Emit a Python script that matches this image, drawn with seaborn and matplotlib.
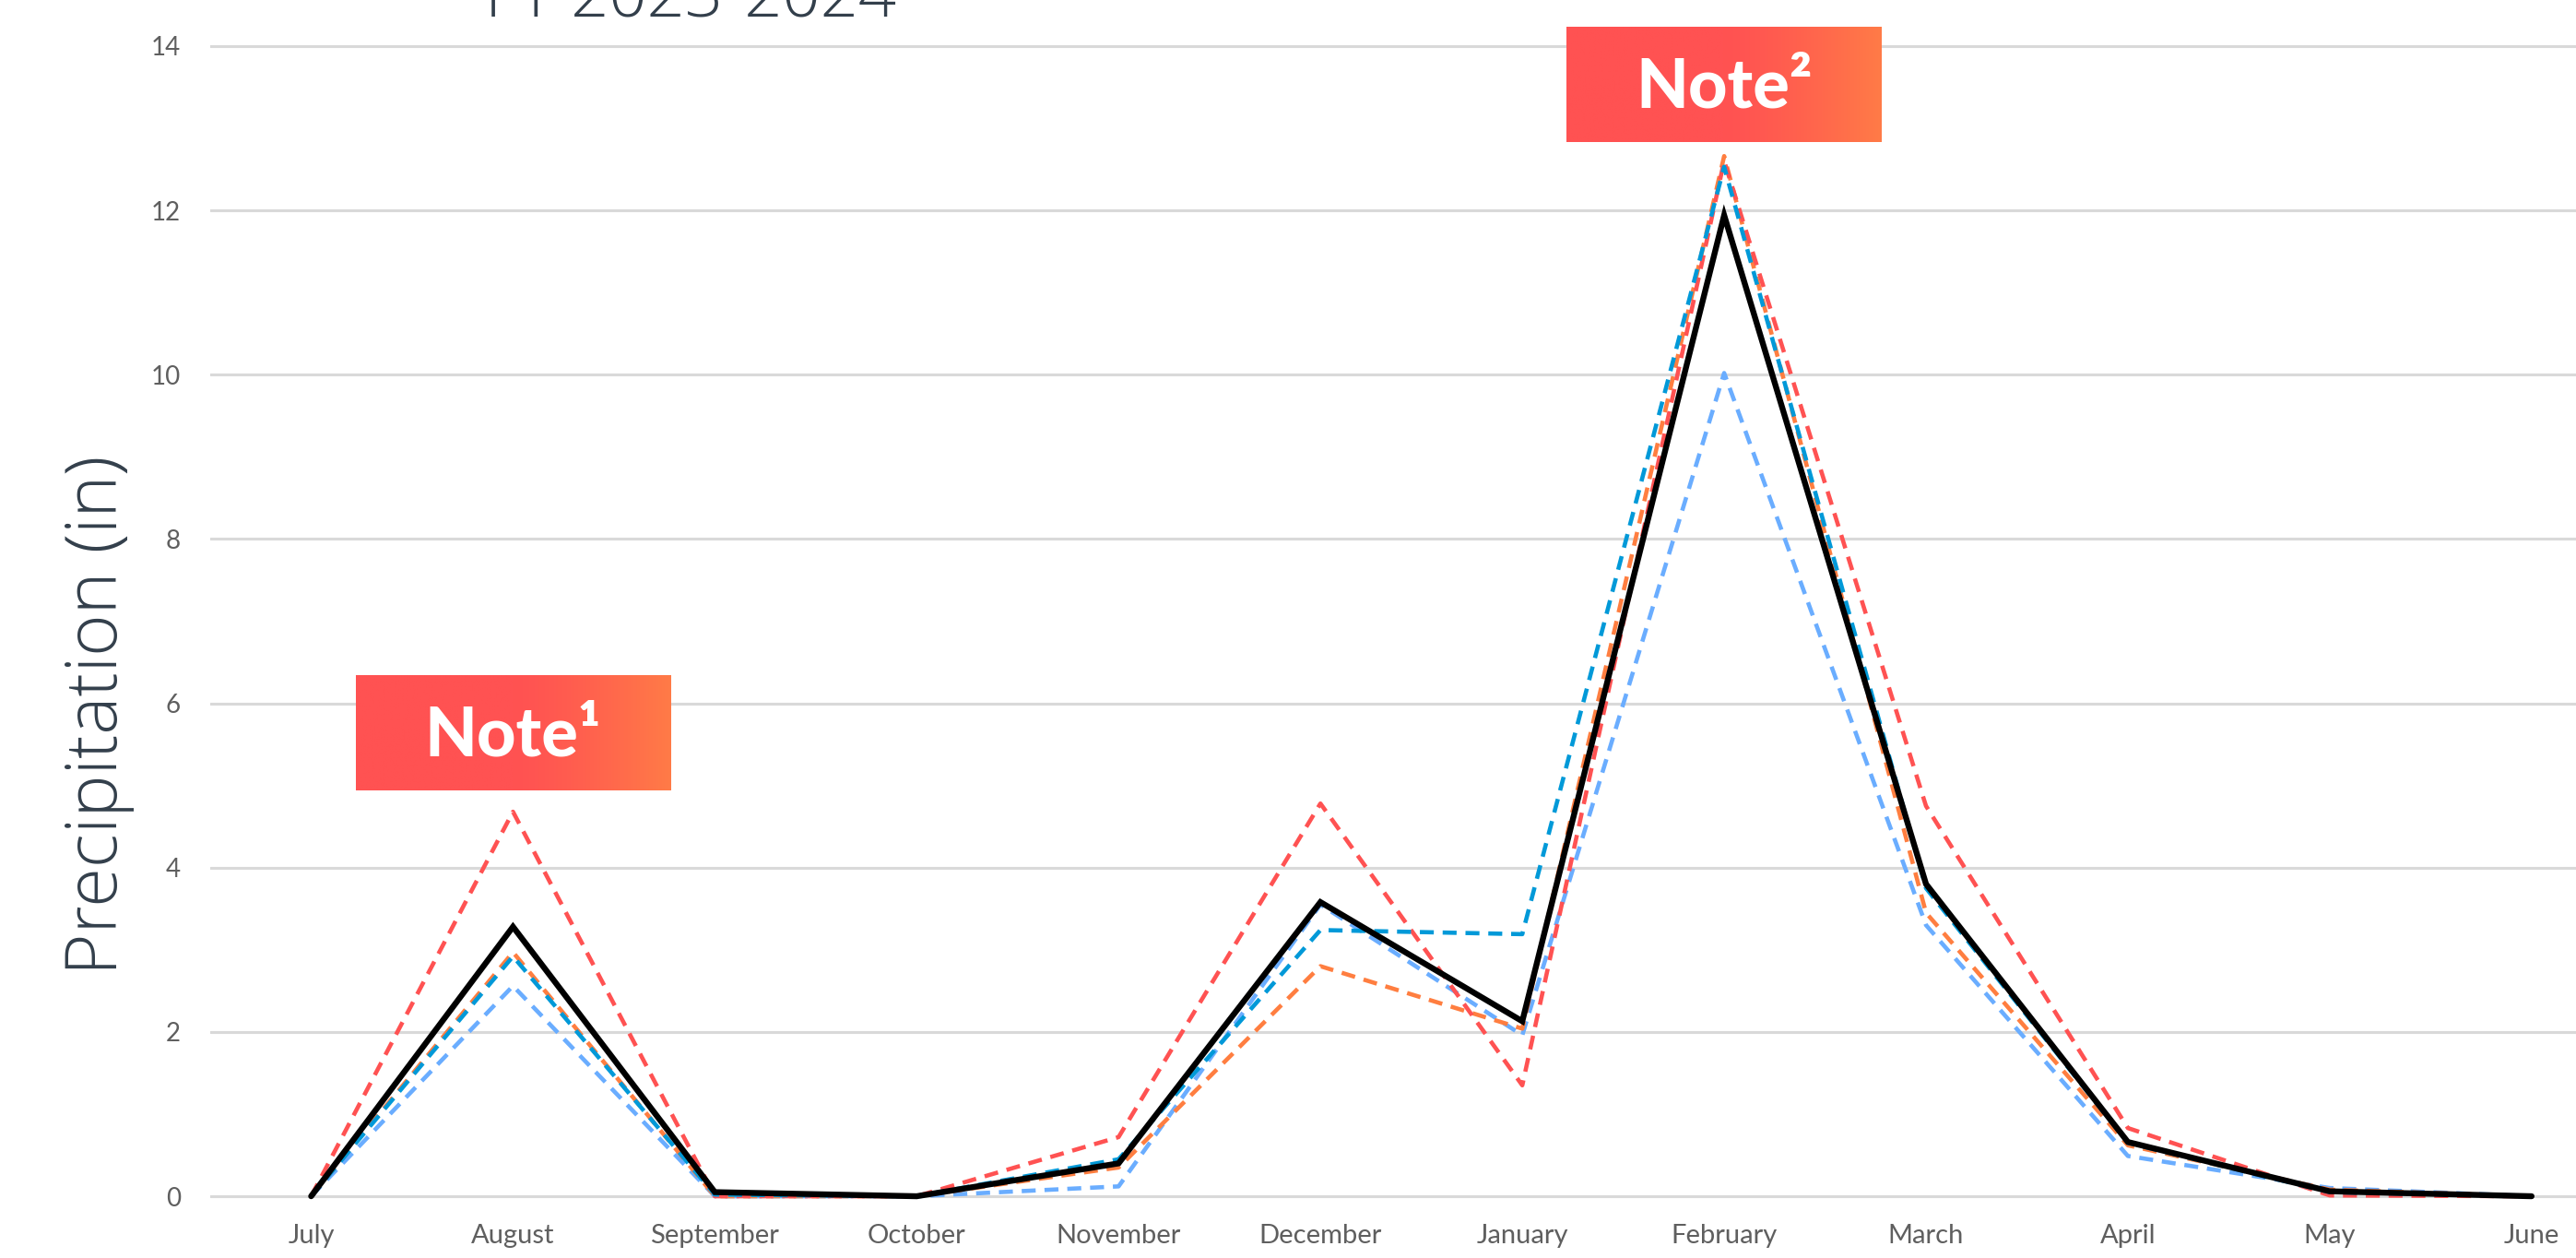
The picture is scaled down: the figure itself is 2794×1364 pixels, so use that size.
import numpy as np
import pandas as pd
import matplotlib
matplotlib.use("Agg")
import matplotlib.pyplot as plt
import seaborn as sns
from matplotlib.colors import to_rgb

# ---------------- data ----------------
months = ["July", "August", "September", "October", "November", "December",
          "January", "February", "March", "April", "May", "June"]

avg_precip = [0.0, 3.28, 0.05, 0.0, 0.40, 3.58, 2.13, 11.94, 3.80, 0.66, 0.06, 0.0]
series_red = [0.0, 4.68, 0.0, 0.0, 0.72, 4.78, 1.35, 12.60, 4.75, 0.83, 0.01, 0.0]
series_orange = [0.0, 2.97, 0.0, 0.0, 0.35, 2.80, 2.04, 12.66, 3.45, 0.62, 0.08, 0.0]
series_blue = [0.0, 2.92, 0.02, 0.0, 0.45, 3.24, 3.19, 12.53, 3.75, 0.65, 0.05, 0.0]
series_lightblue = [0.0, 2.56, 0.0, 0.0, 0.12, 3.55, 1.96, 10.02, 3.30, 0.49, 0.10, 0.0]

y_ticks = [0, 2, 4, 6, 8, 10, 12, 14]
notes = ["Note\u00b9", "Note\u00b2"]
note_months = ["August", "February"]

title_text = "FY 2023-2024"
ylabel_text = "Precipitation (in)"

# ---------------- style ----------------
sns.set_theme(style="white")
plt.rcParams["font.family"] = ["Lato", "DejaVu Sans"]

W, H = 2794, 1364
fig = plt.figure(figsize=(W / 100, H / 100), dpi=100)
ax = fig.add_axes([0.0816, 0.0295, 1 - 0.0816, 0.9705])

x_idx = np.arange(len(months))

dash_series = [
    (series_lightblue, "#6AADFF"),
    (series_orange, "#FF7E40"),
    (series_red, "#FF5252"),
    (series_blue, "#0099D8"),
]
for vals, col in dash_series:
    df = pd.DataFrame({"x": x_idx, "y": vals})
    sns.lineplot(data=df, x="x", y="y", ax=ax, color=col, lw=3.3,
                 dashes=False, zorder=3)
    ax.lines[-1].set_dashes((3.3, 2.1))

df_avg = pd.DataFrame({"x": x_idx, "y": avg_precip})
sns.lineplot(data=df_avg, x="x", y="y", ax=ax, color="black", lw=4.6,
             zorder=4)
ax.lines[-1].set_solid_joinstyle("miter")
ax.lines[-1].set_solid_capstyle("round")

ax.set_xlim(-0.5, 11.22)
ax.set_ylim(-0.3, 14.56)
ax.set_xticks(x_idx)
ax.set_xticklabels(months)
ax.set_yticks(y_ticks)
ax.set_yticklabels([str(t) for t in y_ticks])
ax.set_xlabel("")
ax.set_ylabel("")
ax.tick_params(axis="x", length=0, pad=2, labelsize=21, labelcolor="#5f5f5f")
ax.tick_params(axis="y", length=0, pad=23, labelsize=20, labelcolor="#5f5f5f")
ax.grid(axis="y", color="#D9D9D9", lw=2.2, zorder=0)
ax.grid(axis="x", visible=False)
for s in ax.spines.values():
    s.set_visible(False)
ax.set_axisbelow(True)

# ---------------- note boxes ----------------
c1 = np.array(to_rgb("#FF5252"))
c2 = np.array(to_rgb("#FF7B47"))
t = np.linspace(0, 1, 256)
w = np.clip((t - 0.5) / 0.5, 0, 1) ** 1.3
grad = (c1[None, :] * (1 - w[:, None]) + c2[None, :] * w[:, None])[None, :, :]

box_w = 1.56
box_h = 1.40
box_bottoms = [4.94, 12.83]
for label, mon, yb in zip(notes, note_months, box_bottoms):
    xc = months.index(mon)
    im = ax.imshow(grad, extent=[xc - box_w / 2, xc + box_w / 2, yb, yb + box_h],
                   aspect="auto", zorder=2, interpolation="bilinear")
    ax.text(xc, yb + 0.42, label, ha="center", va="baseline", color="white",
            fontsize=53, fontweight="black", zorder=5)

ax.set_xlim(-0.5, 11.22)
ax.set_ylim(-0.3, 14.56)

# ---------------- titles ----------------
fig.text(526 / W, 1 - 17 / H, title_text, ha="left", va="baseline",
         fontsize=52, color="#333F4B", fontweight="light",
         family=["Open Sans", "DejaVu Sans"])
fig.text(107 / W, 1 - 775 / H, ylabel_text, rotation=90, ha="center",
         va="center", fontsize=56, color="#333F4B", fontweight="light",
         family=["Open Sans", "DejaVu Sans"])

fig.savefig("out.png", dpi=100)
